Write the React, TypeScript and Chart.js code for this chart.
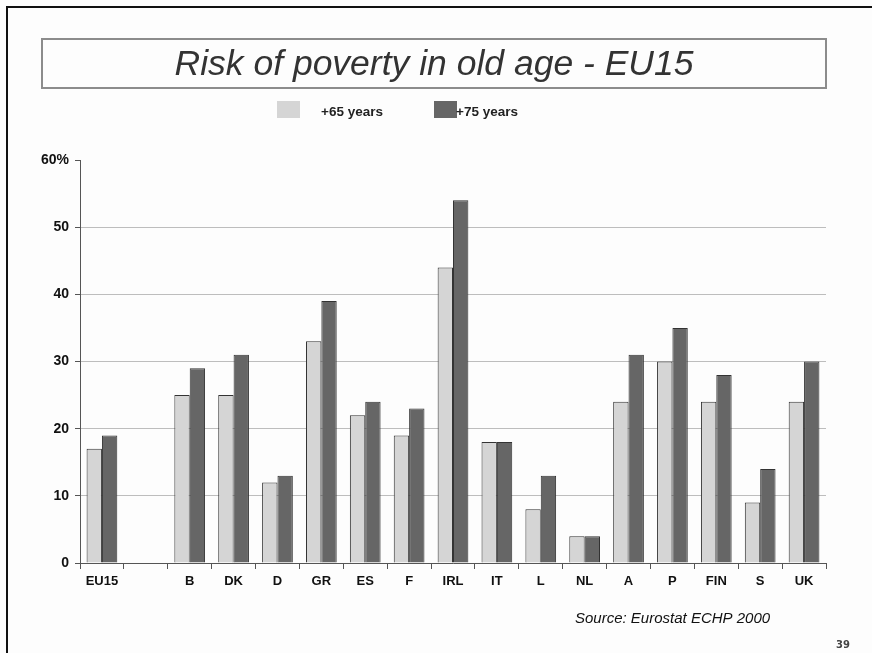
import React, { useEffect, useRef } from "react";
import { Chart, registerables } from "chart.js";

Chart.register(...registerables);

const countries = ["EU15", "", "B", "DK", "D", "GR", "ES", "F", "IRL", "IT", "L", "NL", "A", "P", "FIN", "S", "UK"];
const over65 = [17, null, 25, 25, 12, 33, 22, 19, 44, 18, 8, 4, 24, 30, 24, 9, 24];
const over75 = [19, null, 29, 31, 13, 39, 24, 23, 54, 18, 13, 4, 31, 35, 28, 14, 30];
const seriesNames = ["+65 years", "+75 years"];
const yTicks = [0, 10, 20, 30, 40, 50, 60];

const title = "Risk of poverty in old age - EU15";
const source = "Source: Eurostat ECHP 2000";
const pageNumber = "39";

const LIGHT = "#d5d5d5";
const DARK = "#666666";
const FONT = "'Liberation Sans', Arial, sans-serif";

// Slide frame, title box, legend and footer text
const slideDecor = {
  id: "slideDecor",
  beforeDraw(chart: Chart) {
    const { ctx, width, height } = chart;
    ctx.save();
    ctx.fillStyle = "#fdfdfd";
    ctx.fillRect(0, 0, width, height);
    ctx.restore();
  },
  afterDraw(chart: Chart) {
    const { ctx, width, height } = chart;
    ctx.save();
    // slide edge
    ctx.strokeStyle = "#111";
    ctx.lineWidth = 2;
    ctx.beginPath();
    ctx.moveTo(7, height);
    ctx.lineTo(7, 7);
    ctx.lineTo(width, 7);
    ctx.stroke();

    // title box
    ctx.strokeStyle = "#8c8c8c";
    ctx.lineWidth = 2;
    ctx.strokeRect(42, 39, 784, 49);
    ctx.fillStyle = "#333";
    ctx.font = `italic 35.5px ${FONT}`;
    ctx.textAlign = "center";
    ctx.textBaseline = "middle";
    ctx.fillText(title, 434, 65);

    // legend
    ctx.font = `bold 13.5px ${FONT}`;
    ctx.textAlign = "left";
    ctx.fillStyle = LIGHT;
    ctx.fillRect(277, 101, 23, 17);
    ctx.fillStyle = "#222";
    ctx.fillText(seriesNames[0], 321, 112);
    ctx.fillStyle = DARK;
    ctx.fillRect(434, 101, 23, 17);
    ctx.fillStyle = "#222";
    ctx.fillText(seriesNames[1], 456, 112);

    // source + page number
    ctx.font = `italic 15px ${FONT}`;
    ctx.fillStyle = "#111";
    ctx.textAlign = "left";
    ctx.fillText(source, 575, 619);
    ctx.font = `bold 10px 'DejaVu Sans', sans-serif`;
    ctx.fillStyle = "#444";
    ctx.fillText(pageNumber, 836, 645);
    ctx.restore();
  },
};

export default function App() {
  const canvasRef = useRef<HTMLCanvasElement | null>(null);

  useEffect(() => {
    if (!canvasRef.current) return;
    const chart = new Chart(canvasRef.current, {
      type: "bar",
      data: {
        labels: countries,
        datasets: [
          {
            label: seriesNames[0],
            data: over65,
            backgroundColor: LIGHT,
            borderColor: "#333",
            borderWidth: 1,
            categoryPercentage: 0.7,
            barPercentage: 1,
          },
          {
            label: seriesNames[1],
            data: over75,
            backgroundColor: DARK,
            borderColor: "#333",
            borderWidth: 1,
            categoryPercentage: 0.7,
            barPercentage: 1,
          },
        ],
      },
      options: {
        responsive: false,
        animation: false,
        devicePixelRatio: 1,
        layout: { padding: { top: 160, right: 46, left: 0, bottom: 0 } },
        plugins: {
          legend: { display: false },
          tooltip: { enabled: false },
          title: { display: false },
        },
        scales: {
          x: {
            afterFit: (s: any) => {
              s.height = 90;
            },
            border: { color: "#555", width: 1 },
            grid: {
              drawOnChartArea: false,
              drawTicks: true,
              tickLength: 6,
              color: "#555",
            },
            ticks: {
              padding: 5,
              color: "#111",
              font: { family: FONT, size: 13, weight: "bold" },
            },
          },
          y: {
            min: 0,
            max: 60,
            afterFit: (s: any) => {
              s.width = 80;
            },
            afterBuildTicks: (s: any) => {
              s.ticks = yTicks.map((v) => ({ value: v }));
            },
            border: { color: "#555", width: 1 },
            grid: {
              color: (c: any) => (c.tick && c.tick.value === 60 ? "rgba(0,0,0,0)" : "#bdbdbd"),
              tickColor: "#555",
              tickLength: 5,
            },
            ticks: {
              padding: 6,
              color: "#111",
              font: { family: FONT, size: 14, weight: "bold" },
              callback: (v: any) => (v === 60 ? "60%" : String(v)),
            },
          },
        },
      },
      plugins: [slideDecor],
    });
    return () => chart.destroy();
  }, []);

  return (
    <div style={{ position: "absolute", left: 0, top: 0, width: 872, height: 653 }}>
      <canvas ref={canvasRef} width={872} height={653} style={{ display: "block" }} />
    </div>
  );
}
